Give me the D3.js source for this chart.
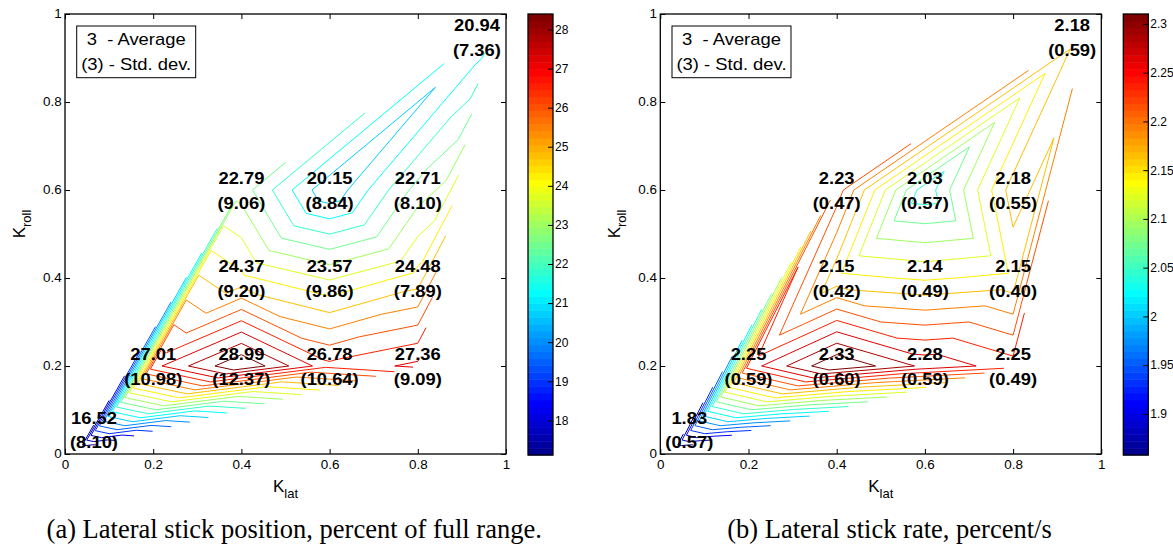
<!DOCTYPE html>
<html><head><meta charset="utf-8">
<script src="https://cdn.jsdelivr.net/npm/d3@7"></script>
<style>body{margin:0;background:#fff}svg{display:block}</style>
</head><body>
<svg id="chart" width="1173" height="546"></svg>
<script>
// ---------------- data ----------------
const kLat  = [0.03, 0.2, 0.4, 0.6, 0.8, 0.4, 0.6, 0.8, 0.4, 0.6, 0.8, 0.96];
const kRoll = [0.01, 0.2, 0.2, 0.2, 0.2, 0.4, 0.4, 0.4, 0.6, 0.6, 0.6, 0.95];
const posAvg  = [16.52, 27.01, 28.99, 26.78, 27.36, 24.37, 23.57, 24.48, 22.79, 20.15, 22.71, 20.94];
const posStd  = [8.10, 10.98, 12.37, 10.64, 9.09, 9.20, 9.86, 7.89, 9.06, 8.84, 8.10, 7.36];
const rateAvg = [1.834, 2.25, 2.334, 2.28, 2.25, 2.15, 2.14, 2.15, 2.23, 2.03, 2.18, 2.18];
const rateStd = [0.57, 0.59, 0.60, 0.59, 0.49, 0.42, 0.49, 0.40, 0.47, 0.57, 0.55, 0.59];
const axisTicks = [0, 0.2, 0.4, 0.6, 0.8, 1];
const axisTickLabels = ["0", "0.2", "0.4", "0.6", "0.8", "1"];
const posBarTicks  = [18, 19, 20, 21, 22, 23, 24, 25, 26, 27, 28];
const rateBarTicks = [1.9, 1.95, 2, 2.05, 2.1, 2.15, 2.2, 2.25, 2.3];
const nLevels = 20;
const legendLines = ["3  - Average", "(3) - Std. dev."];
const captions = ["(a) Lateral stick position, percent of full range.", "(b) Lateral stick rate, percent/s"];

// ---------------- layout ----------------
const SANS = "'Liberation Sans', Arial, Helvetica, sans-serif";
const SERIF = "'Liberation Serif', 'Times New Roman', serif";
const L = 65, R = 506, T = 14, B = 454;
const CB = {x0: 528, x1: 553, y0: 14, y1: 455};
const panelOffsets = [0, 595.3];

const svg = d3.select("#chart");

function jet64() {
  const m = 64, n = 16, u = [];
  for (let k = 1; k <= n; k++) u.push(k / n);
  for (let k = 1; k < n; k++) u.push(1);
  for (let k = n; k >= 1; k--) u.push(k / n);
  const J = Array.from({length: m}, () => [0, 0, 0]);
  const g0 = Math.ceil(n / 2) - (m % 4 === 1 ? 1 : 0);
  for (let k = 0; k < u.length; k++) {
    const g = g0 + k + 1, r = g + n, b = g - n;
    if (r >= 1 && r <= m) J[r - 1][0] = u[k];
    if (g >= 1 && g <= m) J[g - 1][1] = u[k];
    if (b >= 1 && b <= m) J[b - 1][2] = u[k];
  }
  return J.map(c => d3.rgb(c[0] * 255, c[1] * 255, c[2] * 255).formatHex());
}
const JET = jet64();

function isolines(points, values, level, tri) {
  const segs = [];
  for (let t = 0; t < tri.length; t += 3) {
    const v = [tri[t], tri[t + 1], tri[t + 2]], cr = [];
    for (let e = 0; e < 3; e++) {
      const i = v[e], j = v[(e + 1) % 3];
      if ((values[i] >= level) !== (values[j] >= level)) {
        const f = (level - values[i]) / (values[j] - values[i]);
        cr.push({key: i < j ? i + "_" + j : j + "_" + i,
                 p: [points[i][0] + f * (points[j][0] - points[i][0]), points[i][1] + f * (points[j][1] - points[i][1])]});
      }
    }
    if (cr.length === 2) segs.push(cr);
  }
  const byKey = new Map();
  segs.forEach((s, si) => s.forEach(end => {
    if (!byKey.has(end.key)) byKey.set(end.key, []);
    byKey.get(end.key).push(si);
  }));
  const used = new Array(segs.length).fill(false), lines = [];
  function walk(si, startKey) {
    const line = [segs[si].find(e => e.key === startKey).p];
    let cur = si, key = startKey;
    while (cur !== undefined && !used[cur]) {
      used[cur] = true;
      const other = segs[cur][0].key === key ? segs[cur][1] : segs[cur][0];
      line.push(other.p);
      key = other.key;
      cur = (byKey.get(key) || []).find(s => !used[s]);
    }
    return line;
  }
  segs.forEach((s, si) => {
    if (used[si]) return;
    for (const end of s) if (byKey.get(end.key).length === 1) { lines.push(walk(si, end.key)); break; }
  });
  segs.forEach((s, si) => { if (!used[si]) lines.push(walk(si, s[0].key)); });
  return lines;
}

function stretchText(sel, x, y, str, size, weight, sx, anchor) {
  return sel.append("text")
    .attr("transform", `translate(${x},${y}) scale(${sx},1)`)
    .attr("font-family", SANS).attr("font-size", size).attr("font-weight", weight)
    .attr("text-anchor", anchor).attr("fill", "#000")
    .style("white-space", "pre").text(str);
}

const panels = [
  {avg: posAvg, std: posStd, barTicks: posBarTicks, caption: captions[0]},
  {avg: rateAvg, std: rateStd, barTicks: rateBarTicks, caption: captions[1]}
];

panels.forEach((P, pi) => {
  const g = svg.append("g").attr("transform", `translate(${panelOffsets[pi]},0)`);
  const x = d3.scaleLinear().domain([0, 1]).range([L, R]);
  const y = d3.scaleLinear().domain([0, 1]).range([B, T]);

  const [vmin, vmax] = d3.extent(P.avg);
  const step = (vmax - vmin) / (nLevels + 1);
  const levels = d3.range(1, nLevels + 1).map(k => vmin + k * step);
  const cmin = levels[0], cmax = levels[levels.length - 1];
  const colorOf = v => JET[Math.max(0, Math.min(63, Math.floor((v - cmin) / (cmax - cmin) * 64)))];

  // contours
  const pts = kLat.map((d, i) => [d, kRoll[i]]);
  const tri = d3.Delaunay.from(pts).triangles;
  const line = d3.line().x(d => x(d[0])).y(d => y(d[1]));
  const cg = g.append("g").attr("fill", "none").attr("stroke-width", 1).attr("stroke-linejoin", "round");
  levels.forEach(lv => {
    isolines(pts, P.avg, lv, tri).forEach(pl => {
      cg.append("path").attr("d", line(pl)).attr("stroke", colorOf(lv));
    });
  });

  // axes
  const fmtLab = (d, i) => axisTickLabels[i];
  const styleAxis = sx => a => {
    a.select(".domain").remove();
    a.selectAll("line").attr("stroke", "#000").attr("stroke-width", 1);
    a.selectAll("text").attr("font-family", SANS).attr("font-size", 12).attr("fill", "#000")
      .attr("transform", `scale(${sx},1)`);
  };
  g.append("g").attr("transform", `translate(0,${B})`)
    .call(d3.axisBottom(x).tickValues(axisTicks).tickFormat(fmtLab).tickSize(-5).tickPadding(6)).call(styleAxis(1.12));
  g.append("g").attr("transform", `translate(0,${T})`)
    .call(d3.axisTop(x).tickValues(axisTicks).tickFormat("").tickSize(-5)).call(styleAxis(1.12));
  g.append("g").attr("transform", `translate(${L},0)`)
    .call(d3.axisLeft(y).tickValues(axisTicks).tickFormat(fmtLab).tickSize(-5).tickPadding(3)).call(styleAxis(1.12));
  g.append("g").attr("transform", `translate(${R},0)`)
    .call(d3.axisRight(y).tickValues(axisTicks).tickFormat("").tickSize(-5)).call(styleAxis(1.12));
  g.append("rect").attr("x", L).attr("y", T).attr("width", R - L).attr("height", B - T)
    .attr("fill", "none").attr("stroke", "#000").attr("stroke-width", 1.3);

  // axis labels
  const xl = g.append("text").attr("x", (L + R) / 2).attr("y", 491.5).attr("text-anchor", "middle")
    .attr("font-family", SANS).attr("font-size", 17).attr("fill", "#000");
  xl.append("tspan").text("K");
  xl.append("tspan").attr("font-size", 13).attr("dy", 6).text("lat");
  const yl = g.append("text").attr("transform", `translate(25,224) rotate(-90)`).attr("text-anchor", "middle")
    .attr("font-family", SANS).attr("font-size", 17).attr("fill", "#000");
  yl.append("tspan").text("K");
  yl.append("tspan").attr("font-size", 13).attr("dy", 6).text("roll");

  // legend box
  g.append("rect").attr("x", L + 11.7).attr("y", T + 12).attr("width", 119).attr("height", 51.7)
    .attr("fill", "none").attr("stroke", "#000").attr("stroke-width", 1);
  legendLines.forEach((s, i) => stretchText(g, L + 71.2, T + 31 + i * 25, s, 16, "normal", 1.15, "middle"));

  // value labels
  P.avg.forEach((v, i) => {
    const px = x(kLat[i]), py = y(kRoll[i]);
    const lg = g.append("g");
    stretchText(lg, px, py - 6, v.toFixed(2), 17, "bold", 1.08, "middle");
    stretchText(lg, px, py + 18.5, "(" + P.std[i].toFixed(2) + ")", 17, "bold", 1.08, "middle");
    const bb = lg.node().getBBox();
    let dx = 0, dy = 0;
    if (bb.x < L + 5) dx = L + 5 - bb.x;
    if (bb.x + bb.width > R - 5) dx = R - 5 - (bb.x + bb.width);
    if (bb.y + bb.height > B - 2) dy = B - 2 - (bb.y + bb.height);
    if (bb.y < T + 2) dy = T + 2 - bb.y;
    lg.attr("transform", `translate(${dx},${dy})`);
  });

  // colorbar
  const cy = d3.scaleLinear().domain([cmin, cmax]).range([CB.y1, CB.y0]);
  const cbg = g.append("g");
  d3.range(64).forEach(k => {
    const a = cmin + k * (cmax - cmin) / 64, b = cmin + (k + 1) * (cmax - cmin) / 64;
    cbg.append("rect").attr("x", CB.x0).attr("width", CB.x1 - CB.x0)
      .attr("y", cy(b)).attr("height", cy(a) - cy(b) + 0.5).attr("fill", JET[k]);
  });
  g.append("g").attr("transform", `translate(${CB.x1},0)`)
    .call(d3.axisRight(cy).tickValues(P.barTicks).tickFormat(d3.format("~g")).tickSize(-5).tickPadding(2)).call(styleAxis(1.0));
  g.append("rect").attr("x", CB.x0).attr("y", CB.y0).attr("width", CB.x1 - CB.x0).attr("height", CB.y1 - CB.y0)
    .attr("fill", "none").attr("stroke", "#000").attr("stroke-width", 1.3);

  // caption
  g.append("text").attr("x", 294.2).attr("y", 538).attr("text-anchor", "middle")
    .attr("font-family", SERIF).attr("font-size", 26.5).attr("fill", "#000").text(P.caption);
});
</script>
</body></html>
